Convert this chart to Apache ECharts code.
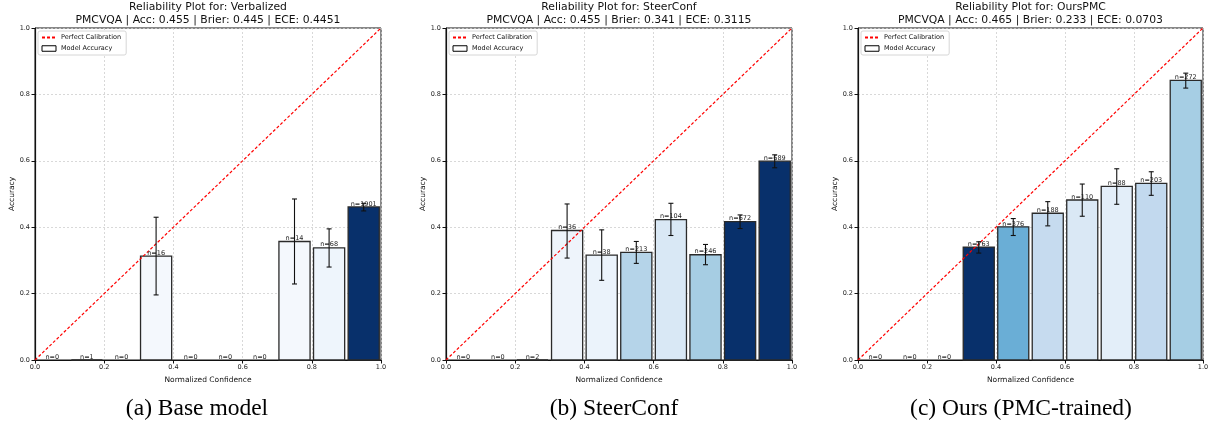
<!DOCTYPE html>
<html><head><meta charset="utf-8">
<script src="https://cdn.jsdelivr.net/npm/echarts@6/dist/echarts.min.js"></script>
<style>html,body{margin:0;padding:0;background:#fff}#c{width:1214px;height:425px}</style>
</head><body><div id="c"></div>
<script>
// ---- data ----
const binEdges = [0, 0.1, 0.2, 0.3, 0.4, 0.5, 0.6, 0.7, 0.8, 0.9, 1.0];
const panelNames = ['Verbalized', 'SteerConf', 'OursPMC'];
const panelStats = [
  'PMCVQA | Acc: 0.455 | Brier: 0.445 | ECE: 0.4451',
  'PMCVQA | Acc: 0.455 | Brier: 0.341 | ECE: 0.3115',
  'PMCVQA | Acc: 0.465 | Brier: 0.233 | ECE: 0.0703'
];
const captions = ['(a) Base model', '(b) SteerConf', '(c) Ours (PMC-trained)'];
const legendNames = ['Perfect Calibration', 'Model Accuracy'];
const xAxisTitle = 'Normalized Confidence';
const yAxisTitle = 'Accuracy';

const counts1 = [0, 1, 0, 16, 0, 0, 0, 14, 68, 1901];
const acc1    = [0, 0, 0, 0.313, 0, 0, 0, 0.357, 0.338, 0.461];
const lo1     = [null, null, null, 0.196, null, null, null, 0.229, 0.280, 0.449];
const hi1     = [null, null, null, 0.430, null, null, null, 0.485, 0.395, 0.472];

const counts2 = [0, 0, 2, 36, 38, 213, 104, 246, 672, 689];
const acc2    = [0, 0, 0, 0.390, 0.316, 0.324, 0.423, 0.317, 0.417, 0.599];
const lo2     = [null, null, null, 0.307, 0.240, 0.291, 0.375, 0.287, 0.396, 0.579];
const hi2     = [null, null, null, 0.470, 0.392, 0.357, 0.472, 0.348, 0.437, 0.618];

const counts3 = [0, 0, 0, 763, 376, 188, 110, 88, 203, 272];
const acc3    = [0, 0, 0, 0.340, 0.401, 0.442, 0.482, 0.523, 0.532, 0.842];
const lo3     = [null, null, null, 0.322, 0.375, 0.404, 0.433, 0.469, 0.496, 0.819];
const hi3     = [null, null, null, 0.356, 0.426, 0.477, 0.530, 0.576, 0.567, 0.864];

// ---- styles ----
const barColors = [
  ['#fff', '#fff', '#fff', '#f4f8fd', '#fff', '#fff', '#fff', '#f4f8fd', '#eef5fc', '#08306b'],
  ['#fff', '#fff', '#fff', '#eef4fb', '#ebf3fb', '#b5d4e9', '#d9e8f5', '#a6cde3', '#08306b', '#08306b'],
  ['#fff', '#fff', '#fff', '#08306b', '#6aaed6', '#c6dbef', '#dae8f5', '#e3eef9', '#c2d9ee', '#a6cee4']
];
const FONT = 'DejaVu Sans';
const RED = '#ff0000';
const grids = [
  { left: 35, top: 28, width: 346, height: 332 },
  { left: 446, top: 28, width: 346, height: 332 },
  { left: 858, top: 28, width: 345, height: 332 }
];
const captionX = [197, 614, 1021];

const panels = [
  { counts: counts1, acc: acc1, lo: lo1, hi: hi1 },
  { counts: counts2, acc: acc2, lo: lo2, hi: hi2 },
  { counts: counts3, acc: acc3, lo: lo3, hi: hi3 }
];

const chart = echarts.init(document.getElementById('c'), null, { renderer: 'canvas' });

const option = {
  animation: false,
  backgroundColor: '#fff',
  textStyle: { fontFamily: FONT },
  grid: grids.map(g => Object.assign({ show: true, borderColor: '#111', borderWidth: 1, backgroundColor: 'transparent', containLabel: false }, g)),
  xAxis: grids.map((g, k) => ({
    type: 'value', gridIndex: k, min: 0, max: 1, interval: 0.2,
    name: xAxisTitle, nameLocation: 'middle', nameGap: 12,
    nameTextStyle: { fontFamily: FONT, fontSize: 7.5, color: '#111' },
    axisLine: { show: true, onZero: false, lineStyle: { color: '#111', width: 1.2 } },
    axisTick: { show: true, inside: false, length: 3.5, lineStyle: { color: '#111' } },
    axisLabel: { fontFamily: FONT, fontSize: 6.5, color: '#222', margin: 4, formatter: v => v.toFixed(1) },
    splitLine: { show: true, lineStyle: { color: '#cfcfcf', type: [2, 2], width: 0.8 } }
  })),
  yAxis: grids.map((g, k) => ({
    type: 'value', gridIndex: k, min: 0, max: 1, interval: 0.2,
    name: yAxisTitle, nameLocation: 'middle', nameGap: 19, nameRotate: 90,
    nameTextStyle: { fontFamily: FONT, fontSize: 7.5, color: '#111' },
    axisLine: { show: true, onZero: false, lineStyle: { color: '#111', width: 1.2 } },
    axisTick: { show: true, inside: false, length: 3.5, lineStyle: { color: '#111' } },
    axisLabel: { fontFamily: FONT, fontSize: 6.5, color: '#222', margin: 5, formatter: v => v.toFixed(1) },
    splitLine: { show: true, lineStyle: { color: '#cfcfcf', type: [2, 2], width: 0.8 } }
  })),
  legend: grids.map((g, k) => ({
    left: g.left + 3, top: g.top + 3, orient: 'vertical',
    data: [
      { name: legendNames[0], itemStyle: { opacity: 0 } },
      { name: legendNames[1], icon: 'rect', itemStyle: { color: '#fff', borderColor: '#000', borderWidth: 1 } }
    ],
    itemWidth: 14, itemHeight: 5.5, itemGap: 4,
    padding: [3, 5, 3, 3],
    backgroundColor: '#fff', borderColor: '#ccc', borderWidth: 0.8, borderRadius: 2,
    textStyle: { fontFamily: FONT, fontSize: 6.5, color: '#111' },
    selectedMode: false
  })),
  graphic: [],
  series: []
};

panelNames.forEach((nm, k) => {
  const cx = grids[k].left + grids[k].width / 2;
  option.graphic.push(
    { type: 'text', x: cx, y: 7.5, style: { text: 'Reliability Plot for: ' + nm, fontFamily: FONT, fontSize: 10.8, fill: '#111', align: 'center', verticalAlign: 'middle' } },
    { type: 'text', x: cx, y: 20, style: { text: panelStats[k], fontFamily: FONT, fontSize: 10.8, fill: '#111', align: 'center', verticalAlign: 'middle' } }
  );
});
captions.forEach((c, k) => {
  option.graphic.push({ type: 'text', x: captionX[k], y: 409, style: { text: c, fontFamily: 'Liberation Serif', fontSize: 23.5, fill: '#000', align: 'center', verticalAlign: 'middle' } });
});

panels.forEach((p, k) => {
  // diagonal
  option.series.push({
    name: legendNames[0], type: 'line', xAxisIndex: k, yAxisIndex: k,
    data: [[0, 0], [1, 1]], symbol: 'none', z: 4,
    lineStyle: { color: RED, width: 1.2, type: [3, 2] }, itemStyle: { color: RED }
  });
  // bars
  const barData = [];
  p.counts.forEach((n, i) => { if (n > 0) barData.push([i, p.acc[i], n]); });
  option.series.push({
    name: legendNames[1], type: 'custom', xAxisIndex: k, yAxisIndex: k, z: 2,
    itemStyle: { color: '#fff', borderColor: '#000' },
    data: barData,
    renderItem: (params, api) => {
      const i = api.value(0), a = api.value(1);
      const p0 = api.coord([binEdges[i] + 0.005, 0]);
      const p1 = api.coord([binEdges[i + 1] - 0.005, a]);
      return { type: 'rect', shape: { x: p0[0], y: p1[1], width: p1[0] - p0[0], height: p0[1] - p1[1] },
        style: { fill: barColors[k][i], stroke: '#2a2a2a', lineWidth: 1.3 } };
    }
  });
  // error bars
  const errData = [];
  p.counts.forEach((n, i) => { if (p.lo[i] != null) errData.push([i, p.lo[i], p.hi[i]]); });
  option.series.push({
    name: 'err' + k, type: 'custom', xAxisIndex: k, yAxisIndex: k, z: 6,
    data: errData,
    renderItem: (params, api) => {
      const i = api.value(0);
      const c = (binEdges[i] + binEdges[i + 1]) / 2;
      const a = api.coord([c, api.value(1)]), b = api.coord([c, api.value(2)]);
      const st = { stroke: '#111', lineWidth: 1.1 };
      return { type: 'group', children: [
        { type: 'line', shape: { x1: a[0], y1: a[1], x2: b[0], y2: b[1] }, style: st },
        { type: 'line', shape: { x1: a[0] - 2.5, y1: a[1], x2: a[0] + 2.5, y2: a[1] }, style: st },
        { type: 'line', shape: { x1: b[0] - 2.5, y1: b[1], x2: b[0] + 2.5, y2: b[1] }, style: st }
      ] };
    }
  });
  // count labels
  const lblData = p.counts.map((n, i) => [i, p.acc[i], n]);
  option.series.push({
    name: 'lbl' + k, type: 'custom', xAxisIndex: k, yAxisIndex: k, z: 5,
    data: lblData,
    renderItem: (params, api) => {
      const i = api.value(0);
      const c = (binEdges[i] + binEdges[i + 1]) / 2;
      const pt = api.coord([c, api.value(1)]);
      return { type: 'text', x: pt[0], y: pt[1] + 0.5,
        style: { text: 'n=' + api.value(2), fontFamily: FONT, fontSize: 6.5, fill: '#222', align: 'center', verticalAlign: 'bottom' } };
    }
  });
});

chart.setOption(option);
</script></body></html>
